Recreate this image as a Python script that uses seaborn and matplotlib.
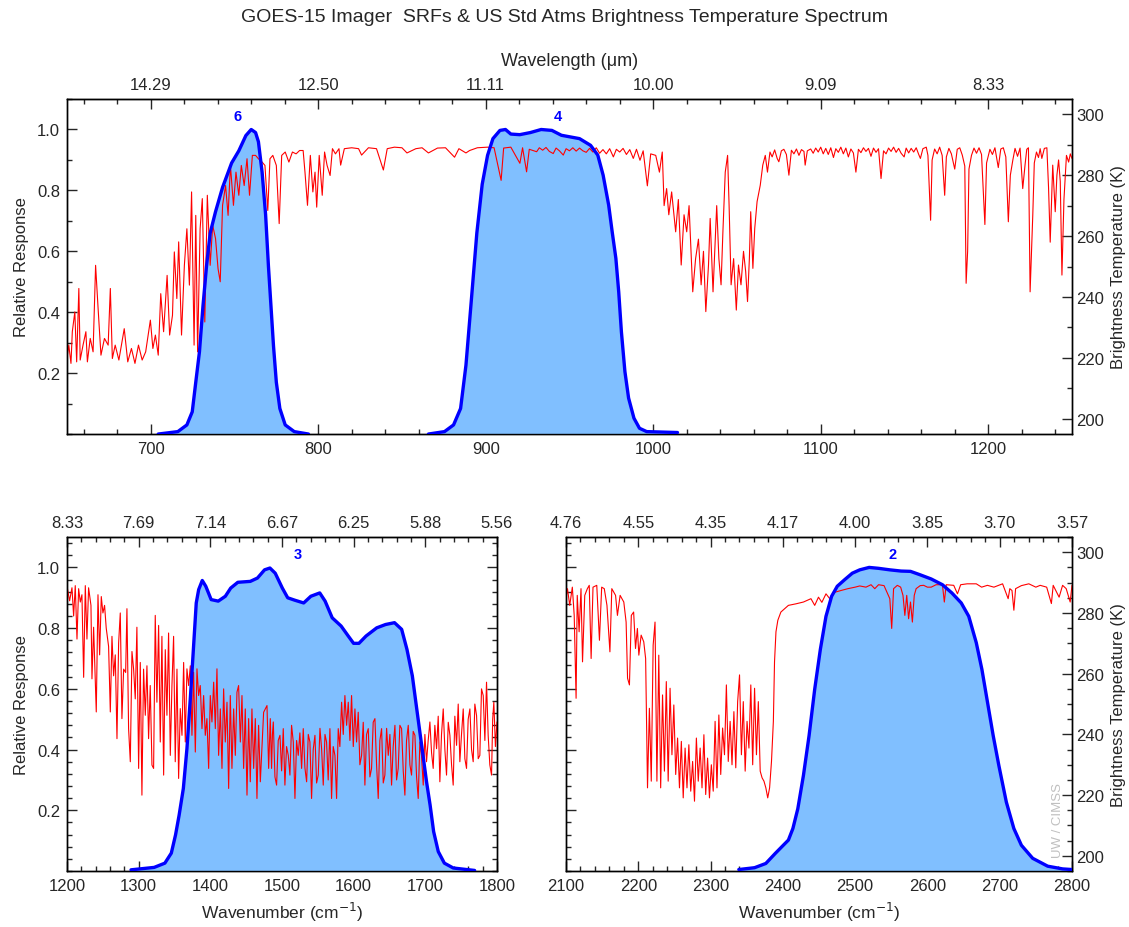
import matplotlib
matplotlib.use("Agg")
from matplotlib import pyplot as plt
from matplotlib.ticker import MultipleLocator, FixedLocator, FuncFormatter
import seaborn as sb
import numpy as np

sb.set_style("ticks")
plt.rcParams['font.family'] = ['Liberation Sans', 'DejaVu Sans']

# ---- US Std Atmosphere brightness temperature spectrum (K) ----
lw_wn = [650.0, 651.1, 652.4, 653.2, 654.7, 655.8, 657.1, 657.9, 659.6, 661.3,
         662.2, 663.9, 665.6, 667.1, 668.6, 670.3, 672.4, 674.6, 675.9, 677.1,
         678.8, 681.0, 684.2, 686.3, 688.5, 690.6, 692.7, 694.9, 697.0, 699.8,
         701.3, 702.8, 704.5, 706.0, 707.7, 709.8, 711.3, 713.0, 714.1, 715.6,
         716.7, 718.4, 720.1, 721.6, 723.1, 724.4, 725.9, 726.9, 728.0, 729.5,
         730.8, 732.3, 733.8, 735.5, 737.0, 738.7, 740.2, 741.5, 742.9, 744.7,
         746.2, 747.6, 749.4, 750.9, 752.6, 754.1, 755.8, 757.5, 759.0, 760.7,
         762.6, 764.3, 766.5, 768.2, 769.9, 771.2, 772.9, 775.0, 776.7, 778.2,
         780.3, 782.5, 784.6, 786.8, 788.9, 791.0, 792.1, 793.6, 795.3, 796.8,
         798.1, 799.1, 800.6, 802.4, 803.8, 805.3, 807.1, 808.5, 810.3, 812.4,
         813.4, 815.6, 820.0, 824.1, 825.9, 830.0, 834.8, 838.9, 841.2, 845.5,
         850.0, 853.0, 858.3, 862.0, 865.8, 871.2, 876.0, 881.4, 884.0, 888.2,
         890.4, 895.0, 901.1, 905.0, 909.2, 910.7, 915.0, 920.4, 922.0, 924.4,
         926.0, 930.4, 932.0, 934.0, 936.0, 938.0, 940.3, 942.0, 944.0, 946.3,
         948.0, 950.0, 952.0, 954.0, 956.0, 958.0, 960.0, 962.0, 964.0, 966.0,
         968.0, 970.0, 972.0, 974.0, 976.2, 978.0, 980.0, 982.0, 984.0, 986.0,
         988.1, 990.0, 992.1, 994.0, 996.5, 998.5,
         1001.5, 1003.7, 1005.4, 1006.5, 1008.0, 1009.3, 1011.0, 1013.4, 1015.0, 1016.7,
         1018.4, 1020.0, 1021.4, 1023.6, 1025.3, 1027.0, 1028.6, 1030.0, 1031.4, 1033.0,
         1034.0, 1035.7, 1037.9, 1039.2, 1040.5, 1041.6, 1043.0, 1044.4, 1045.3, 1046.5,
         1048.0, 1049.6, 1050.9, 1052.4, 1053.9, 1055.2, 1056.3, 1057.4, 1058.2, 1059.5,
         1060.6, 1062.0, 1063.9, 1065.4, 1066.9, 1068.2, 1069.7, 1071.0, 1072.5, 1074.0,
         1075.0, 1076.5, 1078.0, 1079.5, 1081.0, 1082.5, 1084.0, 1085.5, 1087.0, 1088.5,
         1090.0, 1090.7, 1092.0, 1094.0, 1095.5, 1097.0, 1098.5, 1100.0, 1101.5, 1103.0,
         1104.5, 1106.0, 1107.6, 1109.0, 1110.5, 1112.0, 1113.5, 1115.0, 1116.5, 1118.0,
         1119.5, 1121.0, 1122.5, 1124.0, 1125.5, 1127.0, 1128.5, 1130.0, 1131.5, 1133.0,
         1134.5, 1136.0, 1137.5, 1139.0, 1140.5, 1142.0, 1143.5, 1145.0, 1146.5, 1148.0,
         1149.8, 1151.0, 1152.5, 1154.0, 1155.5, 1157.0, 1158.5, 1159.5, 1161.0, 1163.0,
         1164.0, 1165.6, 1166.5, 1168.0, 1169.5, 1171.0, 1172.5, 1174.0, 1175.0, 1176.5,
         1178.0, 1180.0, 1181.5, 1183.0, 1184.5, 1186.0, 1186.8, 1187.7, 1188.5, 1190.0,
         1191.5, 1193.0, 1194.5, 1196.0, 1198.0, 1199.0, 1201.0, 1202.5, 1204.0, 1206.0,
         1207.5, 1209.0, 1210.5, 1212.0, 1213.2, 1214.7, 1216.0, 1217.5, 1219.0, 1220.6,
         1222.0, 1223.0, 1224.0, 1225.0, 1226.6, 1227.5, 1228.8, 1230.0, 1231.0, 1232.0,
         1233.5, 1235.0, 1236.0, 1237.0, 1238.5, 1240.0, 1241.0, 1242.0, 1243.0, 1244.0,
         1245.2, 1246.7, 1248.0, 1249.0, 1250.0]
lw_bt = [219.8, 224.2, 218.2, 228.6, 235.1, 218.7, 242.8, 219.3, 224.2, 228.6,
         218.7, 226.4, 222.0, 250.4, 236.2, 220.9, 226.4, 224.2, 242.8, 219.8,
         224.2, 219.3, 229.6, 218.7, 223.1, 218.2, 224.2, 219.3, 222.0, 232.4,
         223.1, 227.5, 220.9, 241.1, 228.6, 247.1, 227.5, 234.0, 254.8, 239.5,
         258.1, 227.5, 250.4, 262.4, 243.9, 274.5, 224.2, 266.8, 222.0, 262.4,
         272.3, 231.8, 273.4, 250.4, 263.5, 259.2, 249.3, 245.0, 270.1, 276.6,
         266.8, 283.2, 270.1, 281.0, 273.4, 283.2, 276.6, 285.4, 273.4, 286.5,
         286.5, 285.4, 284.3, 283.2, 268.4, 285.4, 286.5, 283.2, 264.1, 286.5,
         287.6, 284.3, 287.6, 287.0, 288.1, 288.1, 281.0, 270.1, 286.5, 274.5,
         281.0, 269.5, 286.5, 273.4, 287.6, 283.2, 279.9, 288.7, 287.0, 288.7,
         283.3, 288.7, 289.0, 288.7, 286.6, 289.0, 288.7, 281.7, 288.7, 289.2,
         289.0, 287.3, 288.7, 289.0, 287.3, 288.9, 289.0, 285.9, 288.7, 287.3,
         288.1, 289.0, 289.2, 289.0, 278.3, 288.9, 289.2, 283.9, 289.0, 281.1,
         288.5, 287.7, 289.0, 288.2, 289.1, 287.8, 287.1, 288.9, 288.0, 286.6,
         288.7, 288.0, 289.0, 287.9, 288.9, 288.0, 287.5, 288.8, 287.6, 289.0,
         287.2, 288.4, 287.0, 288.7, 286.0, 288.5, 287.6, 288.8, 286.8, 288.4,
         285.5, 288.5, 284.9, 288.0, 276.5, 287.0,
         286.5, 281.0, 287.6, 270.0, 275.6, 267.0, 274.5, 261.4, 272.0, 250.5,
         267.0, 261.4, 270.0, 241.7, 252.6, 259.0, 244.0, 255.0, 235.2, 250.5,
         265.8, 241.7, 270.0, 252.6, 244.0, 261.4, 281.0, 286.5, 270.0, 244.0,
         252.6, 235.7, 250.5, 244.0, 255.0, 248.3, 238.5, 252.6, 268.0, 249.4,
         262.5, 271.3, 276.7, 283.3, 286.5, 281.0, 287.6, 286.0, 288.3, 285.5,
         284.4, 288.0, 288.5, 286.8, 280.0, 288.2, 287.0, 288.6, 286.5, 288.4,
         287.8, 283.3, 288.0, 288.6, 287.2, 288.9, 287.6, 289.2, 287.0, 288.8,
         286.8, 289.0, 285.8, 288.7, 287.5, 289.2, 287.0, 288.9, 286.0, 288.6,
         287.3, 281.0, 288.5, 287.4, 289.0, 287.8, 288.8, 286.2, 288.9, 287.5,
         288.7, 278.9, 288.0, 287.0, 288.9, 287.8, 289.2, 287.5, 288.8, 287.2,
         286.0, 288.9, 287.3, 288.8, 287.6, 289.0, 286.8, 285.5, 288.7, 289.2,
         286.5, 265.2, 285.0, 288.6, 287.0, 289.2, 286.5, 273.4, 286.0, 288.8,
         287.0, 282.0, 288.5, 289.0, 286.6, 283.0, 244.5, 255.0, 282.0, 286.5,
         288.9, 287.2, 289.0, 286.8, 263.8, 284.0, 288.5, 286.8, 289.0, 282.5,
         288.6, 289.0, 286.0, 264.7, 280.0, 285.0, 288.8, 286.2, 288.9, 275.6,
         283.5, 288.5, 289.0, 241.7, 267.0, 284.0, 287.6, 285.8, 288.7, 285.5,
         288.8, 289.0, 276.0, 258.0, 283.3, 268.0, 280.0, 285.0, 278.0, 247.2,
         272.0, 286.5, 284.3, 287.0, 285.5]

wv_wn = [1200.0, 1203.7, 1207.0, 1209.3, 1211.6, 1214.0, 1216.3, 1218.6, 1220.9, 1223.3,
         1225.6, 1227.9, 1230.2, 1233.5, 1234.9, 1237.2, 1240.9, 1243.3, 1245.6, 1247.9,
         1250.2, 1252.5, 1254.8, 1258.1, 1260.5, 1262.8, 1265.1, 1267.4, 1269.8, 1272.1,
         1274.4, 1276.7, 1279.1, 1281.9, 1283.7, 1286.0, 1288.4, 1290.7, 1293.0, 1295.3,
         1297.6, 1300.0, 1302.3, 1304.6, 1306.9, 1309.3, 1311.6, 1313.9, 1316.2, 1318.6,
         1320.9, 1323.2, 1325.5, 1327.9, 1330.2, 1332.5, 1334.9, 1337.2, 1339.5, 1341.8,
         1344.2, 1346.5, 1348.8, 1351.1, 1353.5, 1355.8, 1358.1, 1360.5, 1362.8, 1365.1,
         1367.4, 1369.8, 1372.1, 1374.4, 1376.7, 1379.1, 1381.4, 1383.7, 1386.0, 1388.4,
         1390.7, 1393.0, 1395.3, 1397.7, 1400.0, 1402.3, 1404.7, 1407.0, 1409.3, 1411.6,
         1414.0, 1416.3, 1418.6, 1420.9, 1423.3, 1425.6, 1427.9, 1430.2, 1432.6, 1434.9,
         1437.2, 1439.5, 1441.9, 1444.2, 1446.5, 1448.8, 1451.2, 1453.5, 1455.8, 1458.1,
         1460.5, 1462.8, 1465.1, 1467.4, 1469.8, 1474.4, 1479.1, 1481.4, 1483.7, 1485.5,
         1486.7, 1487.9, 1490.2, 1492.5, 1494.8, 1497.2, 1499.5, 1501.8, 1504.1, 1506.4,
         1508.8, 1511.1, 1513.4, 1515.8, 1518.1, 1520.4, 1522.7, 1525.0, 1527.4, 1529.7,
         1532.0, 1534.4, 1536.7, 1539.0, 1541.3, 1543.6, 1546.0, 1548.3, 1550.6, 1553.0,
         1555.3, 1557.6, 1560.0, 1562.2, 1564.5, 1566.9, 1569.2, 1571.5, 1573.9, 1576.2,
         1578.5, 1580.8, 1583.2, 1585.5, 1587.8, 1590.2, 1592.5, 1594.8, 1597.1, 1599.5,
         1601.8, 1604.1, 1606.4, 1608.7, 1611.1, 1613.4, 1615.7, 1618.0, 1620.4, 1622.7,
         1625.0, 1627.3, 1629.7, 1632.0, 1634.3, 1636.6, 1639.0, 1641.3, 1643.6, 1646.0,
         1648.3, 1650.6, 1652.9, 1655.2, 1657.6, 1659.9, 1662.2, 1664.5, 1666.9, 1669.2,
         1671.5, 1673.8, 1676.2, 1678.5, 1680.8, 1683.1, 1685.5, 1687.8, 1690.1, 1692.4,
         1694.7, 1697.1, 1699.4, 1701.7, 1704.0, 1706.4, 1708.7, 1711.0, 1713.3, 1715.7,
         1718.0, 1720.3, 1722.6, 1725.0, 1727.3, 1729.6, 1732.0, 1734.3, 1736.6, 1738.9,
         1741.2, 1743.6, 1745.9, 1748.2, 1750.5, 1752.9, 1755.2, 1757.5, 1759.8, 1762.2,
         1764.5, 1766.8, 1769.1, 1771.5, 1773.8, 1776.1, 1778.4, 1780.8, 1783.1, 1785.4,
         1787.7, 1790.0, 1792.4, 1794.0, 1795.6, 1797.8, 1800.0]
wv_bt = [288.9, 284.0, 288.3, 279.0, 289.0, 271.4, 288.0, 283.6, 286.0, 258.8,
         289.0, 271.4, 288.3, 282.5, 258.3, 275.3, 247.4, 286.0, 266.2, 285.4,
         280.0, 282.5, 275.0, 269.0, 247.4, 272.3, 259.3, 266.2, 238.6, 270.1,
         280.0, 245.2, 261.5, 260.4, 281.4, 241.9, 231.0, 267.3, 261.5, 251.7,
         275.3, 228.8, 263.7, 220.0, 261.5, 246.3, 262.6, 238.6, 256.1, 229.9,
         228.8, 279.2, 250.6, 275.9, 237.5, 272.3, 226.6, 267.9, 246.3, 273.4,
         233.1, 256.1, 272.3, 231.0, 261.5, 225.5, 248.5, 239.7, 263.7, 237.5,
         261.6, 256.1, 262.6, 239.7, 260.5, 234.2, 261.6, 252.8, 256.1, 241.9,
         252.8, 239.7, 245.2, 228.8, 252.8, 244.1, 257.2, 241.9, 261.6, 233.1,
         248.4, 228.8, 255.0, 237.5, 250.6, 222.2, 252.8, 228.8, 248.4, 233.1,
         253.9, 256.1, 237.5, 252.8, 228.8, 248.4, 220.0, 245.2, 224.4, 248.4,
         228.8, 245.2, 218.9, 243.0, 224.4, 247.3, 249.5, 228.8, 245.2, 228.8,
         240.0, 244.1, 226.0, 223.3, 238.0, 239.7, 228.0, 241.9, 223.3, 236.0,
         233.1, 226.6, 243.0, 237.5, 218.9, 238.0, 233.1, 240.5, 228.8, 241.9,
         229.0, 224.4, 240.0, 237.5, 218.9, 235.0, 239.7, 224.0, 226.6, 242.0,
         235.3, 223.3, 240.0, 237.5, 225.0, 241.9, 218.9, 236.0, 233.1, 218.9,
         241.9, 236.0, 250.6, 240.0, 252.8, 243.0, 250.6, 238.0, 252.8, 236.0,
         248.4, 237.5, 247.3, 230.0, 233.1, 244.0, 223.3, 240.0, 241.9, 226.0,
         228.8, 244.0, 245.2, 230.0, 218.9, 238.0, 241.9, 224.0, 226.6, 242.0,
         233.1, 240.0, 223.3, 236.0, 243.0, 225.0, 228.8, 243.0, 241.9, 228.0,
         220.0, 238.0, 243.0, 230.0, 226.6, 241.0, 239.7, 226.0, 218.9, 237.5,
         233.0, 223.3, 240.0, 231.0, 238.0, 244.1, 234.0, 228.8, 243.0, 235.3,
         246.0, 224.4, 240.0, 248.4, 235.0, 226.6, 244.0, 239.7, 230.0, 223.3,
         246.0, 236.4, 250.0, 231.0, 240.0, 248.4, 232.0, 228.8, 245.0, 248.4,
         235.0, 231.0, 250.0, 246.2, 232.0, 233.1, 255.0, 252.8, 238.0, 257.2,
         239.7, 230.0, 226.6, 245.0, 250.6, 236.0, 244.1]

sw_wn = [2100.0, 2102.1, 2105.2, 2108.8, 2111.4, 2114.0, 2115.6, 2118.2, 2120.8, 2122.9,
         2126.0, 2129.6, 2132.2, 2134.8, 2137.4, 2142.6, 2146.3, 2149.4, 2153.0, 2156.7,
         2160.8, 2163.4, 2168.6, 2171.2, 2174.9, 2180.0, 2183.2, 2185.2, 2187.8, 2190.4,
         2193.6, 2196.2, 2198.8, 2200.8, 2204.0, 2207.6, 2210.2, 2212.8, 2215.4, 2218.0,
         2220.6, 2223.2, 2225.8, 2228.4, 2231.0, 2233.6, 2236.2, 2238.8, 2241.4, 2244.0,
         2246.6, 2249.2, 2251.8, 2254.4, 2257.0, 2259.6, 2262.2, 2264.8, 2267.4, 2270.0,
         2272.6, 2275.2, 2277.8, 2280.4, 2283.0, 2285.6, 2288.2, 2290.8, 2293.3, 2295.9,
         2298.5, 2301.1, 2303.7, 2306.3, 2308.9, 2311.5, 2314.1, 2316.7, 2319.3, 2321.9,
         2324.5, 2327.1, 2329.7, 2332.3, 2334.9, 2337.5, 2340.1, 2342.7, 2345.3, 2347.9,
         2350.5, 2353.1, 2355.7, 2358.3, 2360.9, 2363.5, 2366.1, 2368.7, 2371.3, 2373.9,
         2376.5, 2379.1, 2381.7, 2384.3, 2386.9, 2388.5, 2390.5, 2393.1, 2397.3, 2407.7,
         2418.0, 2428.5, 2438.9, 2444.1, 2449.3, 2454.0, 2459.7, 2464.9, 2470.1, 2480.5,
         2490.0, 2500.0, 2506.4, 2515.0, 2522.0, 2527.2, 2532.4, 2540.0, 2548.0, 2550.6,
         2553.2, 2558.4, 2563.0, 2566.2, 2568.8, 2571.4, 2574.0, 2576.6, 2579.2, 2581.8,
         2584.4, 2590.0, 2594.8, 2600.0, 2605.2, 2612.0, 2620.8, 2623.4, 2626.0, 2636.4,
         2641.6, 2646.0, 2655.0, 2667.6, 2675.0, 2683.0, 2692.0, 2704.0, 2711.7, 2714.0,
         2717.0, 2719.6, 2722.0, 2730.0, 2740.3, 2750.0, 2756.0, 2765.0, 2771.5, 2774.0,
         2782.2, 2787.0, 2792.0, 2797.5, 2800.0]
sw_bt = [284.7, 288.0, 282.5, 288.5, 279.2, 251.9, 285.8, 273.8, 288.0, 263.9,
         285.8, 288.0, 289.1, 265.0, 288.5, 289.1, 271.0, 288.5, 288.0, 282.5,
         267.2, 288.0, 285.8, 279.2, 285.8, 283.6, 277.0, 258.5, 256.3, 279.2,
         280.3, 268.3, 274.9, 266.1, 272.7, 270.5, 265.0, 222.4, 248.6, 224.6,
         269.4, 277.0, 224.6, 266.1, 222.4, 253.0, 227.9, 257.4, 224.6, 255.2,
         233.3, 249.7, 226.8, 238.8, 222.4, 237.7, 219.1, 235.5, 222.4, 236.6,
         221.3, 231.1, 218.0, 238.8, 224.6, 235.5, 222.4, 239.9, 220.2, 232.2,
         219.1, 230.0, 221.3, 244.3, 222.4, 246.4, 226.8, 242.1, 233.3, 256.3,
         231.1, 244.3, 230.0, 247.5, 229.0, 250.8, 259.6, 233.3, 250.8, 227.9,
         244.3, 235.5, 256.3, 230.0, 255.2, 233.3, 250.8, 227.9, 225.7, 224.6,
         222.4, 219.1, 222.4, 231.1, 244.3, 263.9, 273.8, 277.6, 280.3, 282.5,
         283.0, 283.6, 284.7, 282.5, 285.2, 283.5, 286.3, 284.7, 286.7, 287.4,
         288.0, 288.5, 288.9, 288.5, 289.3, 288.0, 289.3, 289.0, 284.7, 274.9,
         288.0, 289.1, 288.5, 285.8, 279.2, 285.8, 278.1, 283.6, 277.0, 285.8,
         288.0, 289.0, 289.1, 288.5, 288.5, 289.3, 289.3, 283.6, 289.3, 289.1,
         286.3, 289.3, 289.6, 289.6, 288.5, 289.1, 288.5, 289.6, 284.7, 288.0,
         287.4, 280.9, 288.0, 289.0, 289.6, 288.5, 289.1, 288.5, 283.1, 289.1,
         285.2, 289.1, 288.0, 283.6, 289.1]

# ---- GOES-15 imager spectral response functions (relative) ----
ch6_wn = [704.5, 716.2, 721.6, 724.8, 726.9, 729.1, 731.2, 733.3, 735.5, 738.7,
          742.9, 748.3, 752.6, 756.8, 760.0, 762.6, 764.3, 766.5, 768.6, 770.3,
          771.8, 773.3, 775.0, 777.1, 780.3, 785.7, 794.2]
ch6_rr = [0.0, 0.008, 0.03, 0.073, 0.17, 0.27, 0.42, 0.55, 0.66, 0.73,
          0.81, 0.89, 0.93, 0.98, 1.0, 0.99, 0.96, 0.86, 0.72, 0.55,
          0.42, 0.29, 0.17, 0.084, 0.03, 0.008, 0.0]
ch4_wn = [865.8, 875.4, 880.8, 885.0, 888.2, 891.5, 894.7, 897.9, 901.1, 904.3,
          908.5, 911.8, 915.0, 920.3, 926.7, 933.1, 939.5, 945.2, 956.0, 962.6,
          966.9, 970.1, 973.4, 975.5, 977.7, 979.4, 981.0, 983.1, 985.3, 988.5,
          991.8, 996.1, 1014.5]
ch4_rr = [0.0, 0.008, 0.03, 0.084, 0.226, 0.445, 0.66, 0.82, 0.915, 0.97,
          0.997, 1.0, 0.985, 0.983, 0.99, 1.0, 0.997, 0.981, 0.97, 0.948,
          0.916, 0.85, 0.752, 0.664, 0.577, 0.467, 0.336, 0.205, 0.118, 0.052,
          0.019, 0.008, 0.005]
ch3_wn = [1289.4, 1321.7, 1336.6, 1345.6, 1351.5, 1356.5, 1362.4, 1367.4, 1372.4, 1376.4,
          1380.4, 1383.8, 1388.8, 1393.7, 1401.2, 1411.1, 1421.0, 1428.5, 1438.4, 1455.8,
          1465.8, 1475.7, 1483.2, 1490.6, 1500.5, 1508.0, 1517.9, 1530.3, 1540.3, 1552.7,
          1560.2, 1570.1, 1582.5, 1592.5, 1599.9, 1607.4, 1617.3, 1632.2, 1644.6, 1657.0,
          1667.0, 1674.4, 1681.9, 1686.8, 1691.8, 1696.8, 1701.7, 1706.7, 1711.6, 1718.1,
          1726.6, 1739.0, 1768.8]
ch3_rr = [0.004, 0.012, 0.026, 0.059, 0.119, 0.184, 0.272, 0.403, 0.578, 0.73,
          0.883, 0.927, 0.957, 0.938, 0.894, 0.889, 0.905, 0.932, 0.951, 0.954,
          0.965, 0.992, 0.998, 0.981, 0.932, 0.9, 0.892, 0.883, 0.905, 0.916,
          0.889, 0.834, 0.807, 0.774, 0.75, 0.75, 0.774, 0.801, 0.812, 0.818,
          0.796, 0.73, 0.643, 0.556, 0.468, 0.381, 0.294, 0.217, 0.13, 0.064,
          0.026, 0.01, 0.002]
ch2_wn = [2339.1, 2360.9, 2376.5, 2389.5, 2407.7, 2413.9, 2420.7, 2428.5, 2436.3, 2444.1,
          2451.9, 2459.7, 2467.5, 2475.3, 2485.7, 2496.1, 2506.4, 2519.4, 2532.4, 2548.0,
          2563.6, 2576.6, 2589.6, 2605.2, 2620.8, 2633.8, 2646.8, 2657.2, 2667.6, 2675.4,
          2683.2, 2691.0, 2698.8, 2709.2, 2719.6, 2730.0, 2745.6, 2766.4, 2787.1, 2800.0]
ch2_rr = [0.005, 0.011, 0.025, 0.058, 0.102, 0.14, 0.205, 0.315, 0.446, 0.599,
          0.73, 0.839, 0.905, 0.938, 0.96, 0.981, 0.992, 1.0, 0.997, 0.992,
          0.988, 0.987, 0.976, 0.962, 0.943, 0.916, 0.883, 0.839, 0.752, 0.664,
          0.555, 0.446, 0.348, 0.227, 0.14, 0.085, 0.042, 0.016, 0.007, 0.005]

title = "GOES-15 Imager  SRFs & US Std Atms Brightness Temperature Spectrum"

RED = "#ff0000"
BLUE = "#0000ff"
FILL = "#80bfff"
FS = 12


def wavelength(v, pos):
    return f"{10000.0 / v:.2f}"


def make_panel(fig, rect, xlim, wn, bt, srfs, ytick_minor, bt_minor,
               left_labels=True, right_labels=True):
    ax = fig.add_axes(rect)
    ax2 = ax.twinx()
    ax.set_xlim(*xlim)
    ax.set_ylim(0, 1.1)

    for swn, srr, num, lx in srfs:
        ax2.fill_between(swn, srr, 0, color=FILL, lw=0, zorder=1, transform=ax.transData)
    sb.lineplot(x=wn, y=bt, ax=ax2, color=RED, lw=0.8, estimator=None, sort=False, zorder=2)
    for swn, srr, num, lx in srfs:
        sb.lineplot(x=swn, y=srr, ax=ax2, color=BLUE, lw=2.4, estimator=None, sort=False,
                    zorder=3, transform=ax.transData)
        ax.text(lx, 1.045, num, color=BLUE, fontweight="bold", fontsize=10.5,
                ha="center", va="center")
    ax2.set_ylim(195, 305)
    ax2.set_xlim(*xlim)

    majors = np.arange(np.ceil(xlim[0] / 100) * 100, xlim[1] + 1, 100)
    ax.xaxis.set_major_locator(FixedLocator(majors))
    ax.xaxis.set_minor_locator(MultipleLocator(20))
    ax.set_yticks([0.2, 0.4, 0.6, 0.8, 1.0])
    ax.yaxis.set_minor_locator(MultipleLocator(ytick_minor))
    ax.yaxis.set_major_formatter(FuncFormatter(lambda v, p: f"{v:.1f}"))
    ax2.set_yticks([200, 220, 240, 260, 280, 300])
    ax2.yaxis.set_minor_locator(MultipleLocator(bt_minor))

    sec = ax.secondary_xaxis("top")
    sec.xaxis.set_major_locator(FixedLocator(majors))
    sec.xaxis.set_minor_locator(MultipleLocator(20))
    sec.xaxis.set_major_formatter(FuncFormatter(wavelength))

    for a in (ax, ax2, sec):
        a.tick_params(which="major", direction="in", length=7, width=1, labelsize=FS, pad=5)
        a.tick_params(which="minor", direction="in", length=3.5, width=1)
    ax.tick_params(axis="y", which="both", left=True, labelleft=left_labels)
    if right_labels:
        ax2.tick_params(axis="y", which="both", right=True, labelright=True, pad=3)
    else:
        ax2.tick_params(axis="y", which="both", right=False, labelright=False)
        ax.tick_params(axis="y", which="both", right=True)
    ax.set_xlabel("")
    ax.set_ylabel("")
    ax2.set_ylabel("")
    for a in (ax, ax2):
        for s in a.spines.values():
            s.set_linewidth(1.0)
            s.set_color("black")
    return ax, ax2, sec


fig = plt.figure(figsize=(11.29, 9.28), dpi=100)

top, top2, topsec = make_panel(fig, [0.0593, 0.5312, 0.8902, 0.3610], (650, 1250),
                               lw_wn, lw_bt,
                               [(ch6_wn, ch6_rr, "6", 752), (ch4_wn, ch4_rr, "4", 943)],
                               0.1, 10)
top.set_ylabel("Relative Response", fontsize=12, labelpad=6)
top2.set_ylabel("Brightness Temperature (K)", fontsize=12, labelpad=5)
topsec.set_xlabel("Wavelength (\u03bcm)", fontsize=13, labelpad=9)

bl, bl2, blsec = make_panel(fig, [0.0593, 0.0603, 0.3809, 0.3599], (1200, 1800),
                            wv_wn, wv_bt, [(ch3_wn, ch3_rr, "3", 1522)],
                            0.04, 5, left_labels=True, right_labels=False)
bl.set_ylabel("Relative Response", fontsize=12, labelpad=6)
bl.set_xlabel("Wavenumber (cm$^{-1}$)", fontsize=12.5, labelpad=5)

br, br2, brsec = make_panel(fig, [0.5013, 0.0603, 0.4482, 0.3599], (2100, 2800),
                            sw_wn, sw_bt, [(ch2_wn, ch2_rr, "2", 2552)],
                            0.04, 5, left_labels=False, right_labels=True)
br2.set_ylabel("Brightness Temperature (K)", fontsize=12, labelpad=5)
br.set_xlabel("Wavenumber (cm$^{-1}$)", fontsize=12.5, labelpad=5)
br.text(2781, 0.17, "UW / CIMSS", rotation=90, color="#c0c0c0", fontsize=9.5,
        ha="center", va="center")

fig.text(0.5, 1 - 18 / 928, title, ha="center", va="center", fontsize=14)

fig.savefig("out.png", dpi=100)
